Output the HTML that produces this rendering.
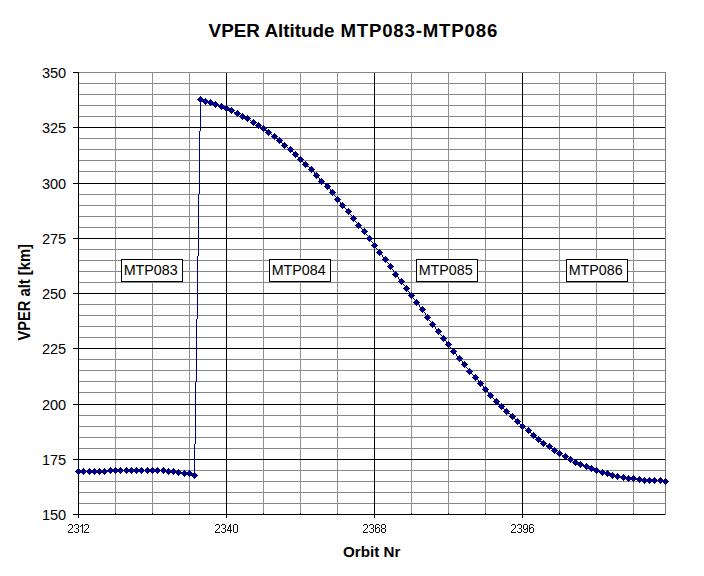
<!DOCTYPE html><html><head><meta charset="utf-8"><title>VPER Altitude MTP083-MTP086</title>
<style>html,body{margin:0;padding:0;background:#fff;overflow:hidden}svg{display:block}text{font-family:"Liberation Sans",sans-serif}</style></head><body>
<svg width="704" height="576" viewBox="0 0 704 576">
<rect width="704" height="576" fill="#ffffff"/>
<g shape-rendering="crispEdges">
<rect x="78" y="83" width="588" height="1" fill="#888888"/>
<rect x="78" y="94" width="588" height="1" fill="#888888"/>
<rect x="78" y="105" width="588" height="1" fill="#888888"/>
<rect x="78" y="116" width="588" height="1" fill="#888888"/>
<rect x="78" y="138" width="588" height="1" fill="#888888"/>
<rect x="78" y="149" width="588" height="1" fill="#888888"/>
<rect x="78" y="160" width="588" height="1" fill="#888888"/>
<rect x="78" y="171" width="588" height="1" fill="#888888"/>
<rect x="78" y="194" width="588" height="1" fill="#888888"/>
<rect x="78" y="205" width="588" height="1" fill="#888888"/>
<rect x="78" y="216" width="588" height="1" fill="#888888"/>
<rect x="78" y="227" width="588" height="1" fill="#888888"/>
<rect x="78" y="249" width="588" height="1" fill="#888888"/>
<rect x="78" y="260" width="588" height="1" fill="#888888"/>
<rect x="78" y="271" width="588" height="1" fill="#888888"/>
<rect x="78" y="282" width="588" height="1" fill="#888888"/>
<rect x="78" y="304" width="588" height="1" fill="#888888"/>
<rect x="78" y="315" width="588" height="1" fill="#888888"/>
<rect x="78" y="326" width="588" height="1" fill="#888888"/>
<rect x="78" y="337" width="588" height="1" fill="#888888"/>
<rect x="78" y="359" width="588" height="1" fill="#888888"/>
<rect x="78" y="370" width="588" height="1" fill="#888888"/>
<rect x="78" y="381" width="588" height="1" fill="#888888"/>
<rect x="78" y="392" width="588" height="1" fill="#888888"/>
<rect x="78" y="415" width="588" height="1" fill="#888888"/>
<rect x="78" y="426" width="588" height="1" fill="#888888"/>
<rect x="78" y="437" width="588" height="1" fill="#888888"/>
<rect x="78" y="448" width="588" height="1" fill="#888888"/>
<rect x="78" y="470" width="588" height="1" fill="#888888"/>
<rect x="78" y="481" width="588" height="1" fill="#888888"/>
<rect x="78" y="492" width="588" height="1" fill="#888888"/>
<rect x="78" y="503" width="588" height="1" fill="#888888"/>
<rect x="115" y="72" width="1" height="443" fill="#909090"/>
<rect x="152" y="72" width="1" height="443" fill="#909090"/>
<rect x="189" y="72" width="1" height="443" fill="#909090"/>
<rect x="263" y="72" width="1" height="443" fill="#909090"/>
<rect x="300" y="72" width="1" height="443" fill="#909090"/>
<rect x="337" y="72" width="1" height="443" fill="#909090"/>
<rect x="411" y="72" width="1" height="443" fill="#909090"/>
<rect x="448" y="72" width="1" height="443" fill="#909090"/>
<rect x="485" y="72" width="1" height="443" fill="#909090"/>
<rect x="559" y="72" width="1" height="443" fill="#909090"/>
<rect x="596" y="72" width="1" height="443" fill="#909090"/>
<rect x="633" y="72" width="1" height="443" fill="#909090"/>
<rect x="78" y="127" width="588" height="1" fill="#000"/>
<rect x="78" y="183" width="588" height="1" fill="#000"/>
<rect x="78" y="238" width="588" height="1" fill="#000"/>
<rect x="78" y="293" width="588" height="1" fill="#000"/>
<rect x="78" y="348" width="588" height="1" fill="#000"/>
<rect x="78" y="404" width="588" height="1" fill="#000"/>
<rect x="78" y="459" width="588" height="1" fill="#000"/>
<rect x="226" y="72" width="1" height="443" fill="#000"/>
<rect x="374" y="72" width="1" height="443" fill="#000"/>
<rect x="522" y="72" width="1" height="443" fill="#000"/>
<rect x="78" y="72" width="588" height="1" fill="#888888"/>
<rect x="665" y="72" width="1" height="443" fill="#787878"/>
<rect x="78" y="72" width="1" height="446" fill="#000"/>
<rect x="73" y="514" width="592" height="1" fill="#000"/>
<rect x="73" y="72" width="5" height="1" fill="#000"/>
<rect x="73" y="127" width="5" height="1" fill="#000"/>
<rect x="73" y="183" width="5" height="1" fill="#000"/>
<rect x="73" y="238" width="5" height="1" fill="#000"/>
<rect x="73" y="293" width="5" height="1" fill="#000"/>
<rect x="73" y="348" width="5" height="1" fill="#000"/>
<rect x="73" y="404" width="5" height="1" fill="#000"/>
<rect x="73" y="459" width="5" height="1" fill="#000"/>
<rect x="73" y="514" width="5" height="1" fill="#000"/>
<rect x="78" y="514" width="1" height="4" fill="#000"/>
<rect x="226" y="514" width="1" height="4" fill="#000"/>
<rect x="374" y="514" width="1" height="4" fill="#000"/>
<rect x="522" y="514" width="1" height="4" fill="#000"/>
<rect x="115" y="513" width="1" height="1" fill="#222"/>
<rect x="152" y="513" width="1" height="1" fill="#222"/>
<rect x="189" y="513" width="1" height="1" fill="#222"/>
<rect x="263" y="513" width="1" height="1" fill="#222"/>
<rect x="300" y="513" width="1" height="1" fill="#222"/>
<rect x="337" y="513" width="1" height="1" fill="#222"/>
<rect x="411" y="513" width="1" height="1" fill="#222"/>
<rect x="448" y="513" width="1" height="1" fill="#222"/>
<rect x="485" y="513" width="1" height="1" fill="#222"/>
<rect x="559" y="513" width="1" height="1" fill="#222"/>
<rect x="596" y="513" width="1" height="1" fill="#222"/>
<rect x="633" y="513" width="1" height="1" fill="#222"/>
</g>
<g shape-rendering="crispEdges">
<path d="M78,471h1v1h-1zM79,471h1v1h-1zM80,471h1v1h-1zM81,471h1v1h-1zM82,471h1v1h-1zM83,471h1v1h-1zM84,471h1v1h-1zM85,471h1v1h-1zM86,471h1v1h-1zM87,471h1v1h-1zM88,471h1v1h-1zM89,471h1v1h-1zM90,471h1v1h-1zM91,471h1v1h-1zM92,471h1v1h-1zM93,471h1v1h-1zM94,471h1v1h-1zM95,471h1v1h-1zM96,471h1v1h-1zM97,471h1v1h-1zM98,471h1v1h-1zM99,471h1v1h-1zM100,471h1v1h-1zM101,471h1v1h-1zM102,471h1v1h-1zM103,471h1v1h-1zM104,471h1v1h-1zM105,471h1v1h-1zM106,471h1v1h-1zM107,471h1v1h-1zM108,470h1v1h-1zM109,470h1v1h-1zM110,470h1v1h-1zM111,470h1v1h-1zM112,470h1v1h-1zM113,470h1v1h-1zM114,470h1v1h-1zM115,470h1v1h-1zM116,470h1v1h-1zM117,470h1v1h-1zM118,470h1v1h-1zM119,470h1v1h-1zM120,470h1v1h-1zM121,470h1v1h-1zM122,470h1v1h-1zM123,470h1v1h-1zM124,470h1v1h-1zM125,470h1v1h-1zM126,470h1v1h-1zM127,470h1v1h-1zM128,470h1v1h-1zM129,470h1v1h-1zM130,470h1v1h-1zM131,470h1v1h-1zM132,470h1v1h-1zM133,470h1v1h-1zM134,470h1v1h-1zM135,470h1v1h-1zM136,470h1v1h-1zM137,470h1v1h-1zM138,470h1v1h-1zM139,470h1v1h-1zM140,470h1v1h-1zM141,470h1v1h-1zM142,470h1v1h-1zM143,470h1v1h-1zM144,470h1v1h-1zM145,470h1v1h-1zM146,470h1v1h-1zM147,470h1v1h-1zM148,470h1v1h-1zM149,470h1v1h-1zM150,470h1v1h-1zM151,470h1v1h-1zM152,470h1v1h-1zM153,470h1v1h-1zM154,470h1v1h-1zM155,470h1v1h-1zM156,470h1v1h-1zM157,470h1v1h-1zM158,470h1v1h-1zM159,470h1v1h-1zM160,470h1v1h-1zM161,470h1v1h-1zM162,470h1v1h-1zM163,470h1v1h-1zM164,470h1v1h-1zM165,470h1v1h-1zM166,471h1v1h-1zM167,471h1v1h-1zM168,471h1v1h-1zM169,471h1v1h-1zM170,471h1v1h-1zM171,471h1v1h-1zM172,471h1v1h-1zM173,471h1v1h-1zM174,471h1v1h-1zM175,471h1v1h-1zM176,472h1v1h-1zM177,472h1v1h-1zM178,472h1v1h-1zM179,472h1v1h-1zM180,472h1v1h-1zM181,472h1v1h-1zM182,473h1v1h-1zM183,473h1v1h-1zM184,473h1v1h-1zM185,473h1v1h-1zM186,473h1v1h-1zM187,473h1v1h-1zM188,473h1v1h-1zM189,473h1v1h-1zM190,473h1v1h-1zM191,474h1v1h-1zM192,474h1v1h-1zM193,475h1v1h-1zM194,444h1v32h-1zM195,382h1v62h-1zM196,319h1v63h-1zM197,256h1v63h-1zM198,194h1v62h-1zM199,131h1v63h-1zM200,99h1v32h-1zM201,99h1v1h-1zM202,100h1v1h-1zM203,100h1v1h-1zM204,101h1v1h-1zM205,101h1v1h-1zM206,101h1v1h-1zM207,101h1v1h-1zM208,102h1v1h-1zM209,102h1v1h-1zM210,102h1v1h-1zM211,102h1v1h-1zM212,103h1v1h-1zM213,103h1v1h-1zM214,104h1v1h-1zM215,104h1v1h-1zM216,104h1v1h-1zM217,105h1v1h-1zM218,105h1v1h-1zM219,105h1v1h-1zM220,106h1v1h-1zM221,106h1v1h-1zM222,106h1v1h-1zM223,107h1v1h-1zM224,107h1v1h-1zM225,108h1v1h-1zM226,108h1v1h-1zM227,108h1v1h-1zM228,109h1v1h-1zM229,109h1v1h-1zM230,110h1v1h-1zM231,110h1v1h-1zM232,110h1v1h-1zM233,111h1v1h-1zM234,112h1v1h-1zM235,112h1v1h-1zM236,112h1v1h-1zM237,113h1v1h-1zM238,114h1v1h-1zM239,114h1v1h-1zM240,115h1v1h-1zM241,115h1v1h-1zM242,116h1v1h-1zM243,116h1v1h-1zM244,117h1v1h-1zM245,117h1v1h-1zM246,118h1v1h-1zM247,118h1v1h-1zM248,119h1v1h-1zM249,119h1v1h-1zM250,120h1v1h-1zM251,121h1v1h-1zM252,121h1v1h-1zM253,122h1v1h-1zM254,123h1v1h-1zM255,123h1v1h-1zM256,124h1v1h-1zM257,124h1v1h-1zM258,125h1v1h-1zM259,126h1v1h-1zM260,126h1v1h-1zM261,127h1v1h-1zM262,127h1v1h-1zM263,128h1v1h-1zM264,129h1v1h-1zM265,130h1v1h-1zM266,130h1v1h-1zM267,131h1v1h-1zM268,132h1v1h-1zM269,133h1v1h-1zM270,133h1v1h-1zM271,134h1v1h-1zM272,135h1v1h-1zM273,135h1v1h-1zM274,136h1v1h-1zM275,137h1v1h-1zM276,138h1v1h-1zM277,138h1v1h-1zM278,139h1v1h-1zM279,140h1v1h-1zM280,141h1v1h-1zM281,142h1v1h-1zM282,143h1v1h-1zM283,144h1v1h-1zM284,145h1v1h-1zM285,146h1v1h-1zM286,146h1v1h-1zM287,147h1v1h-1zM288,148h1v1h-1zM289,148h1v1h-1zM290,149h1v1h-1zM291,150h1v1h-1zM292,151h1v1h-1zM293,152h1v1h-1zM294,153h1v1h-1zM295,154h1v1h-1zM296,155h1v1h-1zM297,156h1v1h-1zM298,157h1v1h-1zM299,158h1v1h-1zM300,159h1v1h-1zM301,160h1v1h-1zM302,161h1v1h-1zM303,162h1v1h-1zM304,163h1v1h-1zM305,164h1v1h-1zM306,165h1v1h-1zM307,166h1v1h-1zM308,166h1v1h-1zM309,167h1v1h-1zM310,168h1v1h-1zM311,169h1v1h-1zM312,170h1v1h-1zM313,171h1v1h-1zM314,172h1v2h-1zM315,174h1v1h-1zM316,175h1v1h-1zM317,176h1v1h-1zM318,177h1v1h-1zM319,178h1v2h-1zM320,180h1v1h-1zM321,181h1v1h-1zM322,182h1v1h-1zM323,183h1v1h-1zM324,183h1v1h-1zM325,184h1v1h-1zM326,185h1v1h-1zM327,186h1v1h-1zM328,187h1v1h-1zM329,188h1v1h-1zM330,189h1v2h-1zM331,191h1v1h-1zM332,192h1v1h-1zM333,193h1v2h-1zM334,195h1v1h-1zM335,196h1v1h-1zM336,197h1v2h-1zM337,199h1v1h-1zM338,200h1v1h-1zM339,201h1v1h-1zM340,202h1v2h-1zM341,204h1v1h-1zM342,205h1v1h-1zM343,206h1v1h-1zM344,207h1v1h-1zM345,208h1v1h-1zM346,209h1v1h-1zM347,210h1v1h-1zM348,211h1v1h-1zM349,212h1v2h-1zM350,214h1v1h-1zM351,215h1v1h-1zM352,216h1v2h-1zM353,218h1v1h-1zM354,219h1v2h-1zM355,221h1v1h-1zM356,222h1v1h-1zM357,223h1v2h-1zM358,225h1v1h-1zM359,226h1v1h-1zM360,227h1v1h-1zM361,228h1v1h-1zM362,229h1v1h-1zM363,230h1v1h-1zM364,231h1v1h-1zM365,232h1v2h-1zM366,234h1v1h-1zM367,235h1v1h-1zM368,236h1v2h-1zM369,238h1v1h-1zM370,239h1v2h-1zM371,241h1v1h-1zM372,242h1v1h-1zM373,243h1v2h-1zM374,245h1v1h-1zM375,246h1v2h-1zM376,248h1v1h-1zM377,249h1v1h-1zM378,250h1v2h-1zM379,252h1v1h-1zM380,253h1v1h-1zM381,254h1v1h-1zM382,255h1v2h-1zM383,257h1v1h-1zM384,258h1v1h-1zM385,259h1v1h-1zM386,260h1v2h-1zM387,262h1v1h-1zM388,263h1v1h-1zM389,264h1v2h-1zM390,266h1v1h-1zM391,267h1v2h-1zM392,269h1v1h-1zM393,270h1v2h-1zM394,272h1v2h-1zM395,274h1v1h-1zM396,275h1v1h-1zM397,276h1v1h-1zM398,277h1v2h-1zM399,279h1v1h-1zM400,280h1v1h-1zM401,281h1v1h-1zM402,282h1v2h-1zM403,284h1v1h-1zM404,285h1v1h-1zM405,286h1v2h-1zM406,288h1v1h-1zM407,289h1v2h-1zM408,291h1v1h-1zM409,292h1v1h-1zM410,293h1v2h-1zM411,295h1v1h-1zM412,296h1v2h-1zM413,298h1v1h-1zM414,299h1v1h-1zM415,300h1v2h-1zM416,302h1v1h-1zM417,303h1v1h-1zM418,304h1v1h-1zM419,305h1v2h-1zM420,307h1v1h-1zM421,308h1v1h-1zM422,309h1v1h-1zM423,310h1v2h-1zM424,312h1v1h-1zM425,313h1v2h-1zM426,315h1v2h-1zM427,317h1v1h-1zM428,318h1v2h-1zM429,320h1v1h-1zM430,321h1v1h-1zM431,322h1v2h-1zM432,324h1v1h-1zM433,325h1v1h-1zM434,326h1v1h-1zM435,327h1v2h-1zM436,329h1v1h-1zM437,330h1v1h-1zM438,331h1v1h-1zM439,332h1v2h-1zM440,334h1v1h-1zM441,335h1v1h-1zM442,336h1v2h-1zM443,338h1v1h-1zM444,339h1v1h-1zM445,340h1v1h-1zM446,341h1v2h-1zM447,343h1v1h-1zM448,344h1v1h-1zM449,345h1v2h-1zM450,347h1v1h-1zM451,348h1v1h-1zM452,349h1v2h-1zM453,351h1v1h-1zM454,352h1v1h-1zM455,353h1v1h-1zM456,354h1v2h-1zM457,356h1v1h-1zM458,357h1v1h-1zM459,358h1v1h-1zM460,359h1v1h-1zM461,360h1v1h-1zM462,361h1v2h-1zM463,363h1v1h-1zM464,364h1v1h-1zM465,365h1v2h-1zM466,367h1v1h-1zM467,368h1v1h-1zM468,369h1v2h-1zM469,371h1v1h-1zM470,372h1v1h-1zM471,373h1v1h-1zM472,374h1v1h-1zM473,375h1v1h-1zM474,376h1v1h-1zM475,377h1v1h-1zM476,378h1v1h-1zM477,379h1v1h-1zM478,380h1v2h-1zM479,382h1v1h-1zM480,383h1v1h-1zM481,384h1v1h-1zM482,385h1v1h-1zM483,386h1v2h-1zM484,388h1v1h-1zM485,389h1v1h-1zM486,390h1v1h-1zM487,391h1v1h-1zM488,392h1v2h-1zM489,394h1v1h-1zM490,395h1v1h-1zM491,396h1v1h-1zM492,397h1v1h-1zM493,398h1v1h-1zM494,399h1v1h-1zM495,400h1v1h-1zM496,401h1v1h-1zM497,402h1v1h-1zM498,403h1v1h-1zM499,404h1v1h-1zM500,405h1v1h-1zM501,406h1v1h-1zM502,407h1v1h-1zM503,408h1v1h-1zM504,409h1v1h-1zM505,410h1v1h-1zM506,411h1v1h-1zM507,412h1v1h-1zM508,413h1v1h-1zM509,413h1v1h-1zM510,414h1v1h-1zM511,415h1v1h-1zM512,416h1v1h-1zM513,417h1v1h-1zM514,418h1v1h-1zM515,419h1v1h-1zM516,420h1v1h-1zM517,421h1v1h-1zM518,422h1v1h-1zM519,423h1v1h-1zM520,424h1v1h-1zM521,425h1v1h-1zM522,426h1v1h-1zM523,427h1v1h-1zM524,427h1v1h-1zM525,428h1v1h-1zM526,429h1v1h-1zM527,429h1v1h-1zM528,430h1v1h-1zM529,431h1v1h-1zM530,432h1v1h-1zM531,433h1v1h-1zM532,434h1v1h-1zM533,435h1v1h-1zM534,436h1v1h-1zM535,437h1v1h-1zM536,437h1v1h-1zM537,438h1v1h-1zM538,439h1v1h-1zM539,440h1v1h-1zM540,441h1v1h-1zM541,441h1v1h-1zM542,442h1v1h-1zM543,443h1v1h-1zM544,443h1v1h-1zM545,444h1v1h-1zM546,445h1v1h-1zM547,445h1v1h-1zM548,445h1v1h-1zM549,446h1v1h-1zM550,447h1v1h-1zM551,448h1v1h-1zM552,448h1v1h-1zM553,449h1v1h-1zM554,450h1v1h-1zM555,451h1v1h-1zM556,451h1v1h-1zM557,452h1v1h-1zM558,452h1v1h-1zM559,453h1v1h-1zM560,453h1v1h-1zM561,454h1v1h-1zM562,455h1v1h-1zM563,455h1v1h-1zM564,455h1v1h-1zM565,456h1v1h-1zM566,457h1v1h-1zM567,457h1v1h-1zM568,458h1v1h-1zM569,458h1v1h-1zM570,459h1v1h-1zM571,460h1v1h-1zM572,460h1v1h-1zM573,461h1v1h-1zM574,461h1v1h-1zM575,462h1v1h-1zM576,462h1v1h-1zM577,463h1v1h-1zM578,463h1v1h-1zM579,464h1v1h-1zM580,464h1v1h-1zM581,464h1v1h-1zM582,465h1v1h-1zM583,465h1v1h-1zM584,465h1v1h-1zM585,466h1v1h-1zM586,466h1v1h-1zM587,466h1v1h-1zM588,467h1v1h-1zM589,467h1v1h-1zM590,468h1v1h-1zM591,468h1v1h-1zM592,468h1v1h-1zM593,469h1v1h-1zM594,469h1v1h-1zM595,470h1v1h-1zM596,470h1v1h-1zM597,470h1v1h-1zM598,471h1v1h-1zM599,471h1v1h-1zM600,471h1v1h-1zM601,472h1v1h-1zM602,472h1v1h-1zM603,472h1v1h-1zM604,472h1v1h-1zM605,473h1v1h-1zM606,473h1v1h-1zM607,473h1v1h-1zM608,473h1v1h-1zM609,474h1v1h-1zM610,474h1v1h-1zM611,475h1v1h-1zM612,475h1v1h-1zM613,475h1v1h-1zM614,475h1v1h-1zM615,476h1v1h-1zM616,476h1v1h-1zM617,476h1v1h-1zM618,476h1v1h-1zM619,476h1v1h-1zM620,476h1v1h-1zM621,477h1v1h-1zM622,477h1v1h-1zM623,477h1v1h-1zM624,477h1v1h-1zM625,477h1v1h-1zM626,478h1v1h-1zM627,478h1v1h-1zM628,478h1v1h-1zM629,478h1v1h-1zM630,478h1v1h-1zM631,478h1v1h-1zM632,478h1v1h-1zM633,478h1v1h-1zM634,478h1v1h-1zM635,478h1v1h-1zM636,478h1v1h-1zM637,479h1v1h-1zM638,479h1v1h-1zM639,479h1v1h-1zM640,479h1v1h-1zM641,479h1v1h-1zM642,480h1v1h-1zM643,480h1v1h-1zM644,480h1v1h-1zM645,480h1v1h-1zM646,480h1v1h-1zM647,480h1v1h-1zM648,480h1v1h-1zM649,480h1v1h-1zM650,480h1v1h-1zM651,480h1v1h-1zM652,480h1v1h-1zM653,480h1v1h-1zM654,480h1v1h-1zM655,480h1v1h-1zM656,480h1v1h-1zM657,480h1v1h-1zM658,480h1v1h-1zM659,480h1v1h-1zM660,480h1v1h-1zM661,480h1v1h-1zM662,480h1v1h-1zM663,481h1v1h-1zM664,481h1v1h-1zM665,481h1v1h-1z" fill="#000080"/>
<path d="M78,468h1v1h-1zM77,469h3v1h-3zM76,470h5v1h-5zM75,471h7v1h-7zM76,472h5v1h-5zM77,473h3v1h-3zM78,474h1v1h-1zM83,468h1v1h-1zM82,469h3v1h-3zM81,470h5v1h-5zM80,471h7v1h-7zM81,472h5v1h-5zM82,473h3v1h-3zM83,474h1v1h-1zM89,468h1v1h-1zM88,469h3v1h-3zM87,470h5v1h-5zM86,471h7v1h-7zM87,472h5v1h-5zM88,473h3v1h-3zM89,474h1v1h-1zM94,468h1v1h-1zM93,469h3v1h-3zM92,470h5v1h-5zM91,471h7v1h-7zM92,472h5v1h-5zM93,473h3v1h-3zM94,474h1v1h-1zM99,468h1v1h-1zM98,469h3v1h-3zM97,470h5v1h-5zM96,471h7v1h-7zM97,472h5v1h-5zM98,473h3v1h-3zM99,474h1v1h-1zM104,468h1v1h-1zM103,469h3v1h-3zM102,470h5v1h-5zM101,471h7v1h-7zM102,472h5v1h-5zM103,473h3v1h-3zM104,474h1v1h-1zM110,467h1v1h-1zM109,468h3v1h-3zM108,469h5v1h-5zM107,470h7v1h-7zM108,471h5v1h-5zM109,472h3v1h-3zM110,473h1v1h-1zM115,467h1v1h-1zM114,468h3v1h-3zM113,469h5v1h-5zM112,470h7v1h-7zM113,471h5v1h-5zM114,472h3v1h-3zM115,473h1v1h-1zM120,467h1v1h-1zM119,468h3v1h-3zM118,469h5v1h-5zM117,470h7v1h-7zM118,471h5v1h-5zM119,472h3v1h-3zM120,473h1v1h-1zM126,467h1v1h-1zM125,468h3v1h-3zM124,469h5v1h-5zM123,470h7v1h-7zM124,471h5v1h-5zM125,472h3v1h-3zM126,473h1v1h-1zM131,467h1v1h-1zM130,468h3v1h-3zM129,469h5v1h-5zM128,470h7v1h-7zM129,471h5v1h-5zM130,472h3v1h-3zM131,473h1v1h-1zM136,467h1v1h-1zM135,468h3v1h-3zM134,469h5v1h-5zM133,470h7v1h-7zM134,471h5v1h-5zM135,472h3v1h-3zM136,473h1v1h-1zM141,467h1v1h-1zM140,468h3v1h-3zM139,469h5v1h-5zM138,470h7v1h-7zM139,471h5v1h-5zM140,472h3v1h-3zM141,473h1v1h-1zM147,467h1v1h-1zM146,468h3v1h-3zM145,469h5v1h-5zM144,470h7v1h-7zM145,471h5v1h-5zM146,472h3v1h-3zM147,473h1v1h-1zM152,467h1v1h-1zM151,468h3v1h-3zM150,469h5v1h-5zM149,470h7v1h-7zM150,471h5v1h-5zM151,472h3v1h-3zM152,473h1v1h-1zM157,467h1v1h-1zM156,468h3v1h-3zM155,469h5v1h-5zM154,470h7v1h-7zM155,471h5v1h-5zM156,472h3v1h-3zM157,473h1v1h-1zM163,467h1v1h-1zM162,468h3v1h-3zM161,469h5v1h-5zM160,470h7v1h-7zM161,471h5v1h-5zM162,472h3v1h-3zM163,473h1v1h-1zM168,468h1v1h-1zM167,469h3v1h-3zM166,470h5v1h-5zM165,471h7v1h-7zM166,472h5v1h-5zM167,473h3v1h-3zM168,474h1v1h-1zM173,468h1v1h-1zM172,469h3v1h-3zM171,470h5v1h-5zM170,471h7v1h-7zM171,472h5v1h-5zM172,473h3v1h-3zM173,474h1v1h-1zM178,469h1v1h-1zM177,470h3v1h-3zM176,471h5v1h-5zM175,472h7v1h-7zM176,473h5v1h-5zM177,474h3v1h-3zM178,475h1v1h-1zM184,470h1v1h-1zM183,471h3v1h-3zM182,472h5v1h-5zM181,473h7v1h-7zM182,474h5v1h-5zM183,475h3v1h-3zM184,476h1v1h-1zM189,470h1v1h-1zM188,471h3v1h-3zM187,472h5v1h-5zM186,473h7v1h-7zM187,474h5v1h-5zM188,475h3v1h-3zM189,476h1v1h-1zM194,472h1v1h-1zM193,473h3v1h-3zM192,474h5v1h-5zM191,475h7v1h-7zM192,476h5v1h-5zM193,477h3v1h-3zM194,478h1v1h-1zM200,96h1v1h-1zM199,97h3v1h-3zM198,98h5v1h-5zM197,99h7v1h-7zM198,100h5v1h-5zM199,101h3v1h-3zM200,102h1v1h-1zM205,98h1v1h-1zM204,99h3v1h-3zM203,100h5v1h-5zM202,101h7v1h-7zM203,102h5v1h-5zM204,103h3v1h-3zM205,104h1v1h-1zM210,99h1v1h-1zM209,100h3v1h-3zM208,101h5v1h-5zM207,102h7v1h-7zM208,103h5v1h-5zM209,104h3v1h-3zM210,105h1v1h-1zM215,101h1v1h-1zM214,102h3v1h-3zM213,103h5v1h-5zM212,104h7v1h-7zM213,105h5v1h-5zM214,106h3v1h-3zM215,107h1v1h-1zM221,103h1v1h-1zM220,104h3v1h-3zM219,105h5v1h-5zM218,106h7v1h-7zM219,107h5v1h-5zM220,108h3v1h-3zM221,109h1v1h-1zM226,105h1v1h-1zM225,106h3v1h-3zM224,107h5v1h-5zM223,108h7v1h-7zM224,109h5v1h-5zM225,110h3v1h-3zM226,111h1v1h-1zM231,107h1v1h-1zM230,108h3v1h-3zM229,109h5v1h-5zM228,110h7v1h-7zM229,111h5v1h-5zM230,112h3v1h-3zM231,113h1v1h-1zM237,110h1v1h-1zM236,111h3v1h-3zM235,112h5v1h-5zM234,113h7v1h-7zM235,114h5v1h-5zM236,115h3v1h-3zM237,116h1v1h-1zM242,113h1v1h-1zM241,114h3v1h-3zM240,115h5v1h-5zM239,116h7v1h-7zM240,117h5v1h-5zM241,118h3v1h-3zM242,119h1v1h-1zM247,115h1v1h-1zM246,116h3v1h-3zM245,117h5v1h-5zM244,118h7v1h-7zM245,119h5v1h-5zM246,120h3v1h-3zM247,121h1v1h-1zM253,119h1v1h-1zM252,120h3v1h-3zM251,121h5v1h-5zM250,122h7v1h-7zM251,123h5v1h-5zM252,124h3v1h-3zM253,125h1v1h-1zM258,122h1v1h-1zM257,123h3v1h-3zM256,124h5v1h-5zM255,125h7v1h-7zM256,126h5v1h-5zM257,127h3v1h-3zM258,128h1v1h-1zM263,125h1v1h-1zM262,126h3v1h-3zM261,127h5v1h-5zM260,128h7v1h-7zM261,129h5v1h-5zM262,130h3v1h-3zM263,131h1v1h-1zM268,129h1v1h-1zM267,130h3v1h-3zM266,131h5v1h-5zM265,132h7v1h-7zM266,133h5v1h-5zM267,134h3v1h-3zM268,135h1v1h-1zM274,133h1v1h-1zM273,134h3v1h-3zM272,135h5v1h-5zM271,136h7v1h-7zM272,137h5v1h-5zM273,138h3v1h-3zM274,139h1v1h-1zM279,137h1v1h-1zM278,138h3v1h-3zM277,139h5v1h-5zM276,140h7v1h-7zM277,141h5v1h-5zM278,142h3v1h-3zM279,143h1v1h-1zM284,142h1v1h-1zM283,143h3v1h-3zM282,144h5v1h-5zM281,145h7v1h-7zM282,146h5v1h-5zM283,147h3v1h-3zM284,148h1v1h-1zM290,146h1v1h-1zM289,147h3v1h-3zM288,148h5v1h-5zM287,149h7v1h-7zM288,150h5v1h-5zM289,151h3v1h-3zM290,152h1v1h-1zM295,151h1v1h-1zM294,152h3v1h-3zM293,153h5v1h-5zM292,154h7v1h-7zM293,155h5v1h-5zM294,156h3v1h-3zM295,157h1v1h-1zM300,156h1v1h-1zM299,157h3v1h-3zM298,158h5v1h-5zM297,159h7v1h-7zM298,160h5v1h-5zM299,161h3v1h-3zM300,162h1v1h-1zM305,161h1v1h-1zM304,162h3v1h-3zM303,163h5v1h-5zM302,164h7v1h-7zM303,165h5v1h-5zM304,166h3v1h-3zM305,167h1v1h-1zM311,166h1v1h-1zM310,167h3v1h-3zM309,168h5v1h-5zM308,169h7v1h-7zM309,170h5v1h-5zM310,171h3v1h-3zM311,172h1v1h-1zM316,172h1v1h-1zM315,173h3v1h-3zM314,174h5v1h-5zM313,175h7v1h-7zM314,176h5v1h-5zM315,177h3v1h-3zM316,178h1v1h-1zM321,178h1v1h-1zM320,179h3v1h-3zM319,180h5v1h-5zM318,181h7v1h-7zM319,182h5v1h-5zM320,183h3v1h-3zM321,184h1v1h-1zM327,183h1v1h-1zM326,184h3v1h-3zM325,185h5v1h-5zM324,186h7v1h-7zM325,187h5v1h-5zM326,188h3v1h-3zM327,189h1v1h-1zM332,189h1v1h-1zM331,190h3v1h-3zM330,191h5v1h-5zM329,192h7v1h-7zM330,193h5v1h-5zM331,194h3v1h-3zM332,195h1v1h-1zM337,196h1v1h-1zM336,197h3v1h-3zM335,198h5v1h-5zM334,199h7v1h-7zM335,200h5v1h-5zM336,201h3v1h-3zM337,202h1v1h-1zM342,202h1v1h-1zM341,203h3v1h-3zM340,204h5v1h-5zM339,205h7v1h-7zM340,206h5v1h-5zM341,207h3v1h-3zM342,208h1v1h-1zM348,208h1v1h-1zM347,209h3v1h-3zM346,210h5v1h-5zM345,211h7v1h-7zM346,212h5v1h-5zM347,213h3v1h-3zM348,214h1v1h-1zM353,215h1v1h-1zM352,216h3v1h-3zM351,217h5v1h-5zM350,218h7v1h-7zM351,219h5v1h-5zM352,220h3v1h-3zM353,221h1v1h-1zM358,222h1v1h-1zM357,223h3v1h-3zM356,224h5v1h-5zM355,225h7v1h-7zM356,226h5v1h-5zM357,227h3v1h-3zM358,228h1v1h-1zM364,228h1v1h-1zM363,229h3v1h-3zM362,230h5v1h-5zM361,231h7v1h-7zM362,232h5v1h-5zM363,233h3v1h-3zM364,234h1v1h-1zM369,235h1v1h-1zM368,236h3v1h-3zM367,237h5v1h-5zM366,238h7v1h-7zM367,239h5v1h-5zM368,240h3v1h-3zM369,241h1v1h-1zM374,242h1v1h-1zM373,243h3v1h-3zM372,244h5v1h-5zM371,245h7v1h-7zM372,246h5v1h-5zM373,247h3v1h-3zM374,248h1v1h-1zM379,249h1v1h-1zM378,250h3v1h-3zM377,251h5v1h-5zM376,252h7v1h-7zM377,253h5v1h-5zM378,254h3v1h-3zM379,255h1v1h-1zM385,256h1v1h-1zM384,257h3v1h-3zM383,258h5v1h-5zM382,259h7v1h-7zM383,260h5v1h-5zM384,261h3v1h-3zM385,262h1v1h-1zM390,263h1v1h-1zM389,264h3v1h-3zM388,265h5v1h-5zM387,266h7v1h-7zM388,267h5v1h-5zM389,268h3v1h-3zM390,269h1v1h-1zM395,271h1v1h-1zM394,272h3v1h-3zM393,273h5v1h-5zM392,274h7v1h-7zM393,275h5v1h-5zM394,276h3v1h-3zM395,277h1v1h-1zM401,278h1v1h-1zM400,279h3v1h-3zM399,280h5v1h-5zM398,281h7v1h-7zM399,282h5v1h-5zM400,283h3v1h-3zM401,284h1v1h-1zM406,285h1v1h-1zM405,286h3v1h-3zM404,287h5v1h-5zM403,288h7v1h-7zM404,289h5v1h-5zM405,290h3v1h-3zM406,291h1v1h-1zM411,292h1v1h-1zM410,293h3v1h-3zM409,294h5v1h-5zM408,295h7v1h-7zM409,296h5v1h-5zM410,297h3v1h-3zM411,298h1v1h-1zM416,299h1v1h-1zM415,300h3v1h-3zM414,301h5v1h-5zM413,302h7v1h-7zM414,303h5v1h-5zM415,304h3v1h-3zM416,305h1v1h-1zM422,306h1v1h-1zM421,307h3v1h-3zM420,308h5v1h-5zM419,309h7v1h-7zM420,310h5v1h-5zM421,311h3v1h-3zM422,312h1v1h-1zM427,314h1v1h-1zM426,315h3v1h-3zM425,316h5v1h-5zM424,317h7v1h-7zM425,318h5v1h-5zM426,319h3v1h-3zM427,320h1v1h-1zM432,321h1v1h-1zM431,322h3v1h-3zM430,323h5v1h-5zM429,324h7v1h-7zM430,325h5v1h-5zM431,326h3v1h-3zM432,327h1v1h-1zM438,328h1v1h-1zM437,329h3v1h-3zM436,330h5v1h-5zM435,331h7v1h-7zM436,332h5v1h-5zM437,333h3v1h-3zM438,334h1v1h-1zM443,335h1v1h-1zM442,336h3v1h-3zM441,337h5v1h-5zM440,338h7v1h-7zM441,339h5v1h-5zM442,340h3v1h-3zM443,341h1v1h-1zM448,341h1v1h-1zM447,342h3v1h-3zM446,343h5v1h-5zM445,344h7v1h-7zM446,345h5v1h-5zM447,346h3v1h-3zM448,347h1v1h-1zM453,348h1v1h-1zM452,349h3v1h-3zM451,350h5v1h-5zM450,351h7v1h-7zM451,352h5v1h-5zM452,353h3v1h-3zM453,354h1v1h-1zM459,355h1v1h-1zM458,356h3v1h-3zM457,357h5v1h-5zM456,358h7v1h-7zM457,359h5v1h-5zM458,360h3v1h-3zM459,361h1v1h-1zM464,361h1v1h-1zM463,362h3v1h-3zM462,363h5v1h-5zM461,364h7v1h-7zM462,365h5v1h-5zM463,366h3v1h-3zM464,367h1v1h-1zM469,368h1v1h-1zM468,369h3v1h-3zM467,370h5v1h-5zM466,371h7v1h-7zM467,372h5v1h-5zM468,373h3v1h-3zM469,374h1v1h-1zM475,374h1v1h-1zM474,375h3v1h-3zM473,376h5v1h-5zM472,377h7v1h-7zM473,378h5v1h-5zM474,379h3v1h-3zM475,380h1v1h-1zM480,380h1v1h-1zM479,381h3v1h-3zM478,382h5v1h-5zM477,383h7v1h-7zM478,384h5v1h-5zM479,385h3v1h-3zM480,386h1v1h-1zM485,386h1v1h-1zM484,387h3v1h-3zM483,388h5v1h-5zM482,389h7v1h-7zM483,390h5v1h-5zM484,391h3v1h-3zM485,392h1v1h-1zM490,392h1v1h-1zM489,393h3v1h-3zM488,394h5v1h-5zM487,395h7v1h-7zM488,396h5v1h-5zM489,397h3v1h-3zM490,398h1v1h-1zM496,398h1v1h-1zM495,399h3v1h-3zM494,400h5v1h-5zM493,401h7v1h-7zM494,402h5v1h-5zM495,403h3v1h-3zM496,404h1v1h-1zM501,403h1v1h-1zM500,404h3v1h-3zM499,405h5v1h-5zM498,406h7v1h-7zM499,407h5v1h-5zM500,408h3v1h-3zM501,409h1v1h-1zM506,408h1v1h-1zM505,409h3v1h-3zM504,410h5v1h-5zM503,411h7v1h-7zM504,412h5v1h-5zM505,413h3v1h-3zM506,414h1v1h-1zM512,413h1v1h-1zM511,414h3v1h-3zM510,415h5v1h-5zM509,416h7v1h-7zM510,417h5v1h-5zM511,418h3v1h-3zM512,419h1v1h-1zM517,418h1v1h-1zM516,419h3v1h-3zM515,420h5v1h-5zM514,421h7v1h-7zM515,422h5v1h-5zM516,423h3v1h-3zM517,424h1v1h-1zM522,423h1v1h-1zM521,424h3v1h-3zM520,425h5v1h-5zM519,426h7v1h-7zM520,427h5v1h-5zM521,428h3v1h-3zM522,429h1v1h-1zM528,427h1v1h-1zM527,428h3v1h-3zM526,429h5v1h-5zM525,430h7v1h-7zM526,431h5v1h-5zM527,432h3v1h-3zM528,433h1v1h-1zM533,432h1v1h-1zM532,433h3v1h-3zM531,434h5v1h-5zM530,435h7v1h-7zM531,436h5v1h-5zM532,437h3v1h-3zM533,438h1v1h-1zM538,436h1v1h-1zM537,437h3v1h-3zM536,438h5v1h-5zM535,439h7v1h-7zM536,440h5v1h-5zM537,441h3v1h-3zM538,442h1v1h-1zM543,440h1v1h-1zM542,441h3v1h-3zM541,442h5v1h-5zM540,443h7v1h-7zM541,444h5v1h-5zM542,445h3v1h-3zM543,446h1v1h-1zM549,443h1v1h-1zM548,444h3v1h-3zM547,445h5v1h-5zM546,446h7v1h-7zM547,447h5v1h-5zM548,448h3v1h-3zM549,449h1v1h-1zM554,447h1v1h-1zM553,448h3v1h-3zM552,449h5v1h-5zM551,450h7v1h-7zM552,451h5v1h-5zM553,452h3v1h-3zM554,453h1v1h-1zM559,450h1v1h-1zM558,451h3v1h-3zM557,452h5v1h-5zM556,453h7v1h-7zM557,454h5v1h-5zM558,455h3v1h-3zM559,456h1v1h-1zM565,453h1v1h-1zM564,454h3v1h-3zM563,455h5v1h-5zM562,456h7v1h-7zM563,457h5v1h-5zM564,458h3v1h-3zM565,459h1v1h-1zM570,456h1v1h-1zM569,457h3v1h-3zM568,458h5v1h-5zM567,459h7v1h-7zM568,460h5v1h-5zM569,461h3v1h-3zM570,462h1v1h-1zM575,459h1v1h-1zM574,460h3v1h-3zM573,461h5v1h-5zM572,462h7v1h-7zM573,463h5v1h-5zM574,464h3v1h-3zM575,465h1v1h-1zM580,461h1v1h-1zM579,462h3v1h-3zM578,463h5v1h-5zM577,464h7v1h-7zM578,465h5v1h-5zM579,466h3v1h-3zM580,467h1v1h-1zM586,463h1v1h-1zM585,464h3v1h-3zM584,465h5v1h-5zM583,466h7v1h-7zM584,467h5v1h-5zM585,468h3v1h-3zM586,469h1v1h-1zM591,465h1v1h-1zM590,466h3v1h-3zM589,467h5v1h-5zM588,468h7v1h-7zM589,469h5v1h-5zM590,470h3v1h-3zM591,471h1v1h-1zM596,467h1v1h-1zM595,468h3v1h-3zM594,469h5v1h-5zM593,470h7v1h-7zM594,471h5v1h-5zM595,472h3v1h-3zM596,473h1v1h-1zM602,469h1v1h-1zM601,470h3v1h-3zM600,471h5v1h-5zM599,472h7v1h-7zM600,473h5v1h-5zM601,474h3v1h-3zM602,475h1v1h-1zM607,470h1v1h-1zM606,471h3v1h-3zM605,472h5v1h-5zM604,473h7v1h-7zM605,474h5v1h-5zM606,475h3v1h-3zM607,476h1v1h-1zM612,472h1v1h-1zM611,473h3v1h-3zM610,474h5v1h-5zM609,475h7v1h-7zM610,476h5v1h-5zM611,477h3v1h-3zM612,478h1v1h-1zM617,473h1v1h-1zM616,474h3v1h-3zM615,475h5v1h-5zM614,476h7v1h-7zM615,477h5v1h-5zM616,478h3v1h-3zM617,479h1v1h-1zM623,474h1v1h-1zM622,475h3v1h-3zM621,476h5v1h-5zM620,477h7v1h-7zM621,478h5v1h-5zM622,479h3v1h-3zM623,480h1v1h-1zM628,475h1v1h-1zM627,476h3v1h-3zM626,477h5v1h-5zM625,478h7v1h-7zM626,479h5v1h-5zM627,480h3v1h-3zM628,481h1v1h-1zM633,475h1v1h-1zM632,476h3v1h-3zM631,477h5v1h-5zM630,478h7v1h-7zM631,479h5v1h-5zM632,480h3v1h-3zM633,481h1v1h-1zM639,476h1v1h-1zM638,477h3v1h-3zM637,478h5v1h-5zM636,479h7v1h-7zM637,480h5v1h-5zM638,481h3v1h-3zM639,482h1v1h-1zM644,477h1v1h-1zM643,478h3v1h-3zM642,479h5v1h-5zM641,480h7v1h-7zM642,481h5v1h-5zM643,482h3v1h-3zM644,483h1v1h-1zM649,477h1v1h-1zM648,478h3v1h-3zM647,479h5v1h-5zM646,480h7v1h-7zM647,481h5v1h-5zM648,482h3v1h-3zM649,483h1v1h-1zM654,477h1v1h-1zM653,478h3v1h-3zM652,479h5v1h-5zM651,480h7v1h-7zM652,481h5v1h-5zM653,482h3v1h-3zM654,483h1v1h-1zM660,477h1v1h-1zM659,478h3v1h-3zM658,479h5v1h-5zM657,480h7v1h-7zM658,481h5v1h-5zM659,482h3v1h-3zM660,483h1v1h-1zM665,478h1v1h-1zM664,479h3v1h-3zM663,480h5v1h-5zM662,481h7v1h-7zM663,482h5v1h-5zM664,483h3v1h-3zM665,484h1v1h-1z" fill="#000080"/>
</g>
<rect x="121.5" y="259.5" width="61" height="22" fill="#fff" stroke="#000" stroke-width="1" shape-rendering="crispEdges"/>
<text x="123.7" y="274.9" font-size="15.4" textLength="54" lengthAdjust="spacingAndGlyphs" fill="#000">MTP083</text>
<rect x="269.5" y="259.5" width="61" height="22" fill="#fff" stroke="#000" stroke-width="1" shape-rendering="crispEdges"/>
<text x="271.7" y="274.9" font-size="15.4" textLength="54" lengthAdjust="spacingAndGlyphs" fill="#000">MTP084</text>
<rect x="416.5" y="259.5" width="61" height="22" fill="#fff" stroke="#000" stroke-width="1" shape-rendering="crispEdges"/>
<text x="418.7" y="274.9" font-size="15.4" textLength="54" lengthAdjust="spacingAndGlyphs" fill="#000">MTP085</text>
<rect x="566.5" y="259.5" width="61" height="22" fill="#fff" stroke="#000" stroke-width="1" shape-rendering="crispEdges"/>
<text x="568.7" y="274.9" font-size="15.4" textLength="54" lengthAdjust="spacingAndGlyphs" fill="#000">MTP086</text>
<text x="41.9" y="77.9" font-size="15.4" textLength="24.3" lengthAdjust="spacingAndGlyphs" fill="#000">350</text>
<text x="41.9" y="132.9" font-size="15.4" textLength="24.3" lengthAdjust="spacingAndGlyphs" fill="#000">325</text>
<text x="41.9" y="188.9" font-size="15.4" textLength="24.3" lengthAdjust="spacingAndGlyphs" fill="#000">300</text>
<text x="41.9" y="243.9" font-size="15.4" textLength="24.3" lengthAdjust="spacingAndGlyphs" fill="#000">275</text>
<text x="41.9" y="298.9" font-size="15.4" textLength="24.3" lengthAdjust="spacingAndGlyphs" fill="#000">250</text>
<text x="41.9" y="353.9" font-size="15.4" textLength="24.3" lengthAdjust="spacingAndGlyphs" fill="#000">225</text>
<text x="41.9" y="409.9" font-size="15.4" textLength="24.3" lengthAdjust="spacingAndGlyphs" fill="#000">200</text>
<text x="41.9" y="464.9" font-size="15.4" textLength="24.3" lengthAdjust="spacingAndGlyphs" fill="#000">175</text>
<text x="41.9" y="519.9" font-size="15.4" textLength="24.3" lengthAdjust="spacingAndGlyphs" fill="#000">150</text>
<path d="M69,524h3v1h-3zM68,525h1v1h-1zM72,525h1v1h-1zM72,526h1v1h-1zM72,527h1v1h-1zM71,528h1v1h-1zM70,529h1v1h-1zM69,530h1v1h-1zM68,531h1v1h-1zM68,532h5v1h-5zM75,524h3v1h-3zM74,525h1v1h-1zM78,525h1v1h-1zM78,526h1v1h-1zM78,527h1v1h-1zM76,528h2v1h-2zM78,529h1v1h-1zM78,530h1v1h-1zM74,531h1v1h-1zM78,531h1v1h-1zM75,532h3v1h-3zM82,524h1v1h-1zM81,525h2v1h-2zM80,526h1v1h-1zM82,526h1v1h-1zM82,527h1v1h-1zM82,528h1v1h-1zM82,529h1v1h-1zM82,530h1v1h-1zM82,531h1v1h-1zM82,532h1v1h-1zM85,524h3v1h-3zM84,525h1v1h-1zM88,525h1v1h-1zM88,526h1v1h-1zM88,527h1v1h-1zM87,528h1v1h-1zM86,529h1v1h-1zM85,530h1v1h-1zM84,531h1v1h-1zM84,532h5v1h-5z" fill="#111" shape-rendering="crispEdges"/>
<path d="M216,524h3v1h-3zM215,525h1v1h-1zM219,525h1v1h-1zM219,526h1v1h-1zM219,527h1v1h-1zM218,528h1v1h-1zM217,529h1v1h-1zM216,530h1v1h-1zM215,531h1v1h-1zM215,532h5v1h-5zM222,524h3v1h-3zM221,525h1v1h-1zM225,525h1v1h-1zM225,526h1v1h-1zM225,527h1v1h-1zM223,528h2v1h-2zM225,529h1v1h-1zM225,530h1v1h-1zM221,531h1v1h-1zM225,531h1v1h-1zM222,532h3v1h-3zM230,524h1v1h-1zM229,525h2v1h-2zM229,526h2v1h-2zM228,527h1v1h-1zM230,527h1v1h-1zM228,528h1v1h-1zM230,528h1v1h-1zM227,529h1v1h-1zM230,529h1v1h-1zM227,530h5v1h-5zM230,531h1v1h-1zM230,532h1v1h-1zM234,524h3v1h-3zM233,525h1v1h-1zM237,525h1v1h-1zM233,526h1v1h-1zM237,526h1v1h-1zM233,527h1v1h-1zM237,527h1v1h-1zM233,528h1v1h-1zM237,528h1v1h-1zM233,529h1v1h-1zM237,529h1v1h-1zM233,530h1v1h-1zM237,530h1v1h-1zM233,531h1v1h-1zM237,531h1v1h-1zM234,532h3v1h-3z" fill="#111" shape-rendering="crispEdges"/>
<path d="M364,524h3v1h-3zM363,525h1v1h-1zM367,525h1v1h-1zM367,526h1v1h-1zM367,527h1v1h-1zM366,528h1v1h-1zM365,529h1v1h-1zM364,530h1v1h-1zM363,531h1v1h-1zM363,532h5v1h-5zM370,524h3v1h-3zM369,525h1v1h-1zM373,525h1v1h-1zM373,526h1v1h-1zM373,527h1v1h-1zM371,528h2v1h-2zM373,529h1v1h-1zM373,530h1v1h-1zM369,531h1v1h-1zM373,531h1v1h-1zM370,532h3v1h-3zM376,524h3v1h-3zM375,525h1v1h-1zM379,525h1v1h-1zM375,526h1v1h-1zM375,527h1v1h-1zM377,527h2v1h-2zM375,528h2v1h-2zM379,528h1v1h-1zM375,529h1v1h-1zM379,529h1v1h-1zM375,530h1v1h-1zM379,530h1v1h-1zM375,531h1v1h-1zM379,531h1v1h-1zM376,532h3v1h-3zM382,524h3v1h-3zM381,525h1v1h-1zM385,525h1v1h-1zM381,526h1v1h-1zM385,526h1v1h-1zM381,527h1v1h-1zM385,527h1v1h-1zM382,528h3v1h-3zM381,529h1v1h-1zM385,529h1v1h-1zM381,530h1v1h-1zM385,530h1v1h-1zM381,531h1v1h-1zM385,531h1v1h-1zM382,532h3v1h-3z" fill="#111" shape-rendering="crispEdges"/>
<path d="M512,524h3v1h-3zM511,525h1v1h-1zM515,525h1v1h-1zM515,526h1v1h-1zM515,527h1v1h-1zM514,528h1v1h-1zM513,529h1v1h-1zM512,530h1v1h-1zM511,531h1v1h-1zM511,532h5v1h-5zM518,524h3v1h-3zM517,525h1v1h-1zM521,525h1v1h-1zM521,526h1v1h-1zM521,527h1v1h-1zM519,528h2v1h-2zM521,529h1v1h-1zM521,530h1v1h-1zM517,531h1v1h-1zM521,531h1v1h-1zM518,532h3v1h-3zM524,524h3v1h-3zM523,525h1v1h-1zM527,525h1v1h-1zM523,526h1v1h-1zM527,526h1v1h-1zM523,527h1v1h-1zM527,527h1v1h-1zM523,528h1v1h-1zM526,528h2v1h-2zM524,529h2v1h-2zM527,529h1v1h-1zM527,530h1v1h-1zM523,531h1v1h-1zM527,531h1v1h-1zM524,532h3v1h-3zM530,524h3v1h-3zM529,525h1v1h-1zM533,525h1v1h-1zM529,526h1v1h-1zM529,527h1v1h-1zM531,527h2v1h-2zM529,528h2v1h-2zM533,528h1v1h-1zM529,529h1v1h-1zM533,529h1v1h-1zM529,530h1v1h-1zM533,530h1v1h-1zM529,531h1v1h-1zM533,531h1v1h-1zM530,532h3v1h-3z" fill="#111" shape-rendering="crispEdges"/>
<text x="208.6" y="37" font-size="18.67" font-weight="bold" textLength="126" lengthAdjust="spacingAndGlyphs" fill="#000">VPER Altitude</text>
<text x="340.4" y="37" font-size="18.67" font-weight="bold" textLength="156.9" lengthAdjust="spacing" fill="#000">MTP083-MTP086</text>
<text x="371.7" y="557.2" font-size="15.2" font-weight="bold" text-anchor="middle" fill="#000">Orbit Nr</text>
<text transform="translate(29.5,340.6) rotate(-90)" font-size="16" font-weight="bold" textLength="96.5" lengthAdjust="spacingAndGlyphs" fill="#000">VPER alt [km]</text>
</svg></body></html>
